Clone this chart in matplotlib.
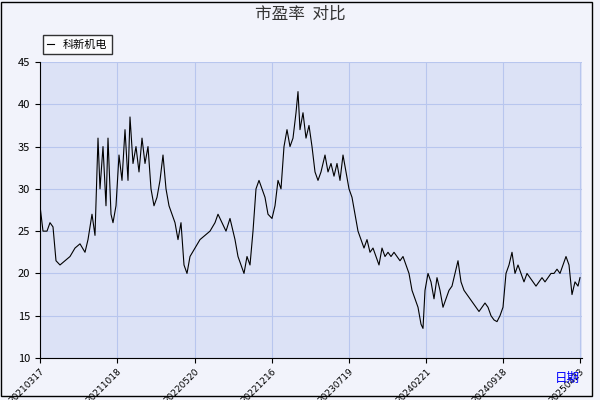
import matplotlib
matplotlib.use("Agg")
import matplotlib.pyplot as plt
import numpy as np
from matplotlib.patches import Rectangle

plt.rcParams['font.family'] = ['Noto Sans CJK SC', 'DejaVu Sans']

px = [40,43,47,50,53,56,60,65,70,75,80,85,88,92,95,98,100,103,106,108,111,113,116,119,122,125,128,130,133,136,139,142,145,148,151,154,157,160,163,166,169,172,175,178,181,184,187,190,195,200,205,210,215,218,222,226,230,235,238,241,244,247,250,253,256,259,262,265,268,272,275,278,281,284,287,290,293,296,298,300,303,306,309,312,315,318,321,325,328,331,334,337,340,343,346,349,352,355,358,361,364,367,370,373,376,379,382,385,388,391,394,397,400,403,406,409,412,415,418,421,423,425,428,431,434,437,440,443,446,449,452,455,458,461,464,467,470,473,476,479,482,485,488,491,494,497,500,503,506,509,512,515,518,521,524,527,530,533,536,539,542,545,548,551,554,557,560,563,566,569,572,575,578,580]
pe = [28,25,25,26,25.5,21.5,21,21.5,22,23,23.5,22.5,24,27,24.5,36,30,35,28,36,27,26,28,34,31,37,31,38.5,33,35,32,36,33,35,30,28,29,31,34,30,28,27,26,24,26,21,20,22,23,24,24.5,25,26,27,26,25,26.5,24,22,21,20,22,21,25,30,31,30,29,27,26.5,28,31,30,35,37,35,36,39,41.5,37,39,36,37.5,35,32,31,32,34,32,33,31.5,33,31,34,32,30,29,27,25,24,23,24,22.5,23,22,21,23,22,22.5,22,22.5,22,21.5,22,21,20,18,17,16,14,13.5,18,20,19,17,19.5,18,16,17,18,18.5,20,21.5,19,18,17.5,17,16.5,16,15.5,16,16.5,16,15,14.5,14.3,15,16,20,21,22.5,20,21,20,19,20,19.5,19,18.5,19,19.5,19,19.5,20,20,20.5,20,21,22,21,17.5,19,18.5,19.5]
tick_px = [40,117,195,272,349,426,503,580]
tick_labels = ['20210317','20211018','20220520','20221216','20230719','20240221','20240918','20250423']

fig = plt.figure(figsize=(6,4), dpi=100, facecolor='#F2F3FB')
ax = fig.add_axes([40/600, 42/400, 542/600, 296/400])
ax.set_facecolor('#DCE2F6')
ax.plot(px, pe, color='black', lw=0.8, label='科新机电')
ax.set_xlim(40, 582)
ax.set_ylim(10, 45)
ax.set_yticks(range(10, 46, 5))
ax.set_xticks(tick_px)
ax.set_xticklabels(tick_labels, rotation=45, ha='right', va='top', rotation_mode='anchor',
                   fontsize=6.5, family=['DejaVu Sans'])
ax.tick_params(axis='y', labelsize=8)
ax.tick_params(axis='x', pad=3)
ax.grid(True, color='#B8C6EE', lw=0.8)
for s in ['top', 'right']:
    ax.spines[s].set_visible(False)
ax.legend(loc='upper left', bbox_to_anchor=(-0.005, 1.11), fontsize=8, frameon=True,
          fancybox=False, edgecolor='black', handlelength=0.6)
fig.text(0.5, 0.965, '市盈率  对比', ha='center', va='center', fontsize=12, color='#333333')
fig.text(0.945, 0.055, '日期', ha='center', va='center', fontsize=9, color='blue')
fig.patches.append(Rectangle((0.002, 0.01), 0.985, 0.985, transform=fig.transFigure,
                             fill=False, edgecolor='black', lw=1))
fig.savefig('out.png', dpi=100, facecolor=fig.get_facecolor())
